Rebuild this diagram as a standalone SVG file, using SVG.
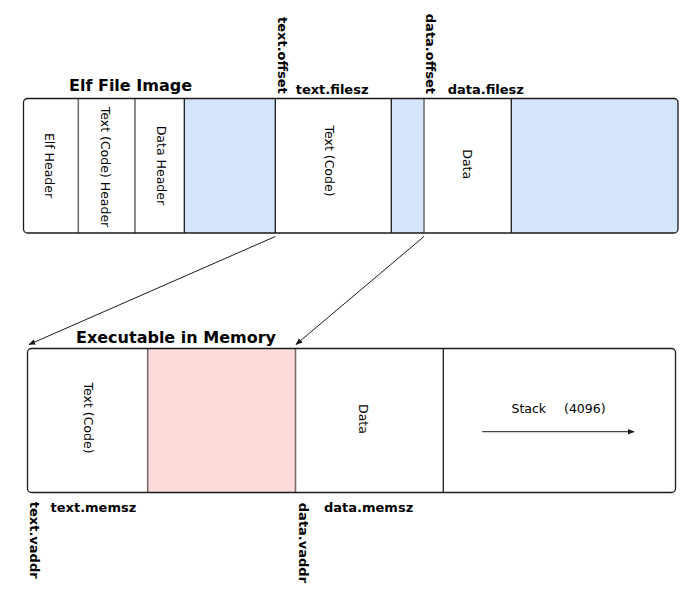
<svg xmlns="http://www.w3.org/2000/svg" width="700" height="600" viewBox="0 0 700 600">
<defs>
<style>
.title{font-family:"DejaVu Sans",sans-serif;font-weight:bold;font-size:16px;fill:#000}
.lbl{font-family:"DejaVu Sans",sans-serif;font-weight:bold;font-size:13px;fill:#000}
.seg{font-family:"DejaVu Sans",sans-serif;font-size:12.5px;fill:#000}
.outline{fill:none;stroke:#1a1a1a;stroke-width:1.3}
.dk{stroke:#1a1a1a;stroke-width:1.3}
.gr{stroke:#6e6e6e;stroke-width:1.6}
.pk{stroke:#786a6a;stroke-width:1.6}
.blue{fill:#d5e4fd}
.pink{fill:#ffdcdc}
.conn{stroke:#1a1a1a;stroke-width:1;fill:none}
</style>
<marker id="ah" viewBox="0 0 10 10" refX="9" refY="5" markerWidth="7" markerHeight="7" markerUnits="userSpaceOnUse" orient="auto">
<path d="M0,1 L10,5 L0,9 Z" fill="#1a1a1a"/>
</marker>
<clipPath id="cTop"><rect x="23.5" y="98.5" width="654.5" height="134.5" rx="4"/></clipPath>
<clipPath id="cBot"><rect x="27.5" y="348.5" width="648" height="144" rx="4"/></clipPath>
</defs>
<rect width="700" height="600" fill="#fff"/>

<g id="elf-file-image">
<text class="title" x="69" y="90.7">Elf File Image</text>
<g clip-path="url(#cTop)">
<rect x="23.5" y="98.5" width="654.5" height="134.5" fill="#fff"/>
<rect class="blue" x="184.3" y="98.5" width="91" height="134.5"/>
<rect class="blue" x="391.3" y="98.5" width="32.7" height="134.5"/>
<rect class="blue" x="511.3" y="98.5" width="170" height="134.5"/>
</g>
<g id="elf-header"><text class="seg" transform="translate(45.2,165.5) rotate(90)" text-anchor="middle">Elf Header</text></g>
<line class="gr" x1="78.3" y1="98.5" x2="78.3" y2="233"/>
<g id="text-code-header"><text class="seg" transform="translate(101.3,167) rotate(90)" text-anchor="middle">Text (Code) Header</text></g>
<line class="gr" x1="135" y1="98.5" x2="135" y2="233"/>
<g id="data-header"><text class="seg" transform="translate(156.6,165.4) rotate(90)" text-anchor="middle">Data Header</text></g>
<line class="dk" x1="184.3" y1="98.5" x2="184.3" y2="233"/>
<line class="dk" x1="275.3" y1="98.5" x2="275.3" y2="233"/>
<g id="text-code-file"><text class="seg" transform="translate(324.8,161) rotate(90)" text-anchor="middle">Text (Code)</text></g>
<line class="dk" x1="391.3" y1="98.5" x2="391.3" y2="233"/>
<line class="gr" x1="424" y1="98.5" x2="424" y2="233"/>
<g id="data-file"><text class="seg" transform="translate(462.6,164.2) rotate(90)" text-anchor="middle">Data</text></g>
<line class="dk" x1="511.3" y1="98.5" x2="511.3" y2="233"/>
<rect class="outline" x="23.5" y="98.5" width="654.5" height="134.5" rx="4"/>
<text class="lbl" transform="translate(278.4,17) rotate(90)">text.offset</text>
<text class="lbl" x="295.7" y="93.5">text.filesz</text>
<text class="lbl" transform="translate(425.8,13.8) rotate(90)">data.offset</text>
<text class="lbl" x="447.7" y="93.5">data.filesz</text>
</g>

<g id="executable-in-memory">
<text class="title" x="76" y="343.3">Executable in Memory</text>
<g clip-path="url(#cBot)">
<rect x="27.5" y="348.5" width="648" height="144" fill="#fff"/>
<rect class="pink" x="147.7" y="348.5" width="147.8" height="144"/>
</g>
<g id="text-code-mem"><text class="seg" transform="translate(83.8,418) rotate(90)" text-anchor="middle">Text (Code)</text></g>
<line class="pk" x1="147.7" y1="348.5" x2="147.7" y2="492.5"/>
<line class="pk" x1="295.5" y1="348.5" x2="295.5" y2="492.5"/>
<g id="data-mem"><text class="seg" transform="translate(358.6,419) rotate(90)" text-anchor="middle">Data</text></g>
<line class="dk" x1="443.3" y1="348.5" x2="443.3" y2="492.5"/>
<g id="stack">
<text class="seg" x="511.5" y="412.5">Stack<tspan x="564">(4096)</tspan></text>
<line class="conn" x1="482.3" y1="431.7" x2="634" y2="431.7" marker-end="url(#ah)"/>
</g>
<rect class="outline" x="27.5" y="348.5" width="648" height="144" rx="4"/>
<text class="lbl" x="50.5" y="511.5">text.memsz</text>
<text class="lbl" x="324" y="511.5">data.memsz</text>
<text class="lbl" transform="translate(29.5,501.8) rotate(90)">text.vaddr</text>
<text class="lbl" transform="translate(299,502.8) rotate(90)">data.vaddr</text>
</g>

<g id="connectors">
<line class="conn" x1="275.3" y1="236.5" x2="29" y2="344.5" marker-end="url(#ah)"/>
<line class="conn" x1="424" y1="236.5" x2="296" y2="344.5" marker-end="url(#ah)"/>
</g>
</svg>
